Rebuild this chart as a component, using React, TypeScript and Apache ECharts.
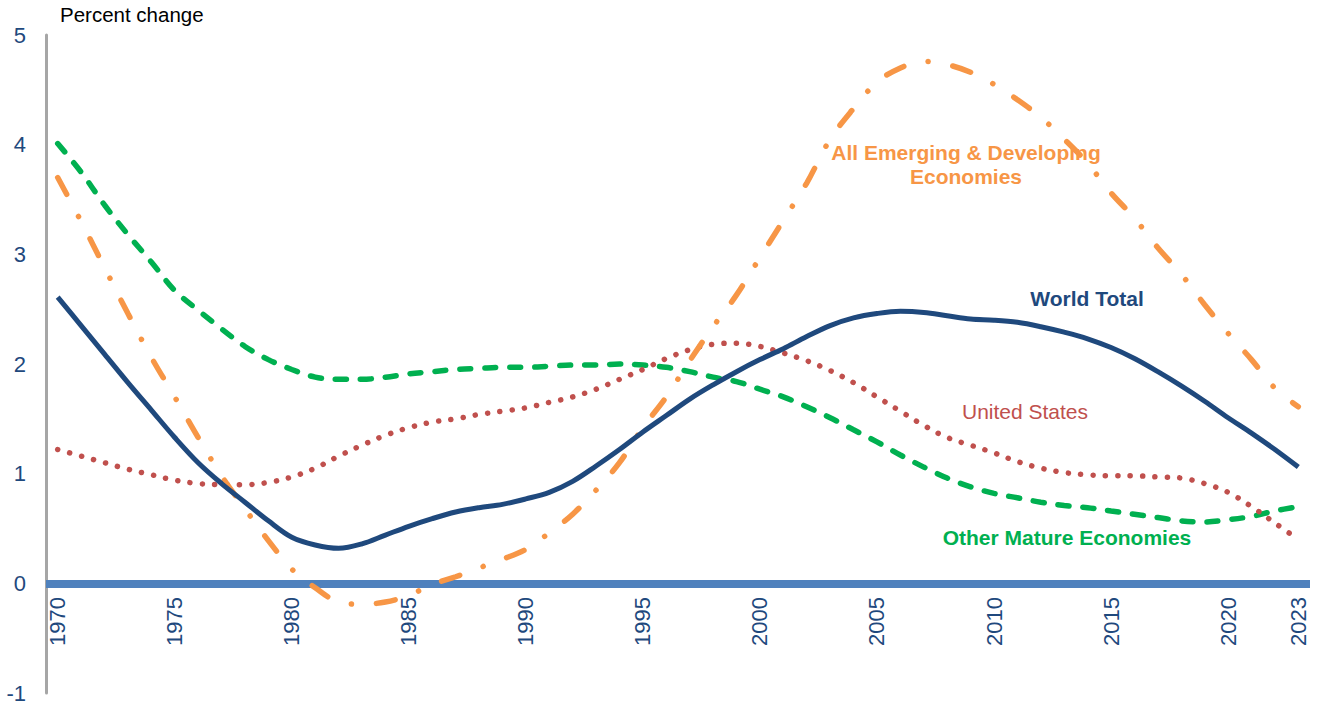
import React, { useEffect, useRef } from "react";
import * as echarts from "echarts";

const years: string[] = Array.from({ length: 54 }, (_, i) => String(1970 + i));

const worldTotal = [
  2.61, 2.35, 2.09, 1.83, 1.58, 1.33, 1.10, 0.91, 0.74, 0.57,
  0.42, 0.35, 0.32, 0.36, 0.44, 0.52, 0.59, 0.65, 0.69, 0.72,
  0.77, 0.83, 0.93, 1.07, 1.22, 1.38, 1.53, 1.68, 1.81, 1.93,
  2.04, 2.14, 2.25, 2.35, 2.42, 2.46, 2.48, 2.47, 2.44, 2.41,
  2.40, 2.38, 2.34, 2.29, 2.23, 2.15, 2.05, 1.93, 1.80, 1.66,
  1.51, 1.37, 1.22, 1.06,
];

const emerging = [
  3.70, 3.30, 2.88, 2.46, 2.06, 1.70, 1.33, 0.98, 0.68, 0.39,
  0.13, -0.04, -0.17, -0.19, -0.17, -0.11, -0.01, 0.06, 0.14, 0.22,
  0.31, 0.46, 0.63, 0.85, 1.10, 1.42, 1.70, 2.03, 2.34, 2.63,
  2.97, 3.31, 3.65, 4.05, 4.33, 4.57, 4.70, 4.76, 4.73, 4.66,
  4.55, 4.41, 4.25, 4.05, 3.83, 3.56, 3.33, 3.06, 2.82, 2.54,
  2.28, 2.04, 1.78, 1.61,
];

const unitedStates = [
  1.22, 1.16, 1.10, 1.04, 0.99, 0.94, 0.91, 0.90, 0.90, 0.92,
  0.97, 1.05, 1.16, 1.26, 1.35, 1.42, 1.47, 1.50, 1.54, 1.57,
  1.60, 1.65, 1.70, 1.77, 1.86, 1.95, 2.05, 2.13, 2.18, 2.19,
  2.16, 2.10, 2.03, 1.94, 1.83, 1.70, 1.57, 1.44, 1.33, 1.26,
  1.19, 1.11, 1.05, 1.01, 0.99, 0.98, 0.98, 0.97, 0.96, 0.91,
  0.83, 0.70, 0.55, 0.40,
];

const otherMature = [
  4.01, 3.75, 3.45, 3.18, 2.93, 2.67, 2.49, 2.32, 2.16, 2.04,
  1.95, 1.88, 1.86, 1.86, 1.88, 1.91, 1.93, 1.95, 1.96, 1.97,
  1.97, 1.98, 1.99, 1.99, 2.00, 1.99, 1.97, 1.93, 1.88, 1.84,
  1.77, 1.70, 1.61, 1.51, 1.40, 1.29, 1.17, 1.06, 0.96, 0.88,
  0.82, 0.78, 0.74, 0.71, 0.69, 0.66, 0.63, 0.60, 0.57, 0.56,
  0.58, 0.61, 0.66, 0.70,
];

const shownYears = ["1970", "1975", "1980", "1985", "1990", "1995", "2000", "2005", "2010", "2015", "2020", "2023"];

const FONT = "'Liberation Sans', Arial, sans-serif";
const NAVY = "#1F497D";
const ORANGE = "#F79646";
const RED = "#C0504D";
const GREEN = "#00B050";

export default function App() {
  const ref = useRef<HTMLDivElement>(null);

  useEffect(() => {
    if (!ref.current) return;
    const chart = echarts.init(ref.current, undefined, { renderer: "svg" });
    chart.setOption({
      animation: false,
      backgroundColor: "#ffffff",
      textStyle: { fontFamily: FONT },
      grid: { left: 46, right: 13, top: 35, bottom: 15, containLabel: false, outerBoundsMode: "none" },
      xAxis: [
        {
          type: "category",
          data: years,
          boundaryGap: true,
          axisLine: { show: true, onZero: true, lineStyle: { color: "#4F81BD", width: 8, cap: "butt" } },
          axisTick: { show: false },
          axisLabel: { show: false },
          splitLine: { show: false },
        },
        {
          type: "category",
          data: years,
          boundaryGap: true,
          position: "bottom",
          offset: -110,
          axisLine: { show: false, onZero: false },
          axisTick: { show: false },
          axisLabel: {
            rotate: 90,
            margin: 14,
            fontSize: 22,
            color: NAVY,
            fontFamily: FONT,
            interval: (_i: number, v: string) => shownYears.includes(v),
          },
          splitLine: { show: false },
        },
      ],
      yAxis: {
        type: "value",
        min: -1,
        max: 5,
        interval: 1,
        axisLine: { show: true, onZero: false, lineStyle: { color: "#A6A6A6", width: 3 } },
        axisTick: { show: false },
        splitLine: { show: false },
        axisLabel: { fontSize: 22, color: NAVY, margin: 20, fontFamily: FONT },
      },
      graphic: [
        {
          type: "text",
          left: 60,
          top: 4,
          style: { text: "Percent change", fontSize: 20.5, fill: "#000000", fontFamily: FONT },
        },
        {
          type: "text",
          x: 966,
          y: 164,
          style: {
            text: "All Emerging & Developing\nEconomies",
            fontSize: 21,
            fontWeight: "bold",
            fill: ORANGE,
            fontFamily: FONT,
            align: "center",
            verticalAlign: "middle",
            lineHeight: 24,
          },
        },
        {
          type: "text",
          x: 1087,
          y: 298,
          style: { text: "World Total", fontSize: 21, fontWeight: "bold", fill: NAVY, fontFamily: FONT, align: "center", verticalAlign: "middle" },
        },
        {
          type: "text",
          x: 1025,
          y: 411,
          style: { text: "United States", fontSize: 21, fill: RED, fontFamily: FONT, align: "center", verticalAlign: "middle" },
        },
        {
          type: "text",
          x: 1067,
          y: 537,
          style: { text: "Other Mature Economies", fontSize: 21, fontWeight: "bold", fill: GREEN, fontFamily: FONT, align: "center", verticalAlign: "middle" },
        },
      ],
      series: [
        {
          name: "Other Mature Economies",
          type: "line",
          xAxisIndex: 0,
          data: otherMature,
          smooth: 0.35,
          showSymbol: false,
          lineStyle: { color: GREEN, width: 5.5, type: [11, 14], cap: "round" },
        },
        {
          name: "United States",
          type: "line",
          xAxisIndex: 0,
          data: unitedStates,
          smooth: 0.35,
          showSymbol: false,
          lineStyle: { color: RED, width: 5.5, type: [0.1, 12.3], cap: "round" },
        },
        {
          name: "All Emerging & Developing Economies",
          type: "line",
          xAxisIndex: 0,
          data: emerging,
          smooth: 0.35,
          showSymbol: false,
          lineStyle: { color: ORANGE, width: 5.5, type: [19, 25, 0.1, 25], cap: "round" },
        },
        {
          name: "World Total",
          type: "line",
          xAxisIndex: 0,
          data: worldTotal,
          smooth: 0.35,
          showSymbol: false,
          lineStyle: { color: NAVY, width: 5 },
        },
      ],
    });
    return () => chart.dispose();
  }, []);

  return (
    <div
      ref={ref}
      style={{ position: "fixed", left: 0, top: 0, width: 1323, height: 708, background: "#fff" }}
    />
  );
}
